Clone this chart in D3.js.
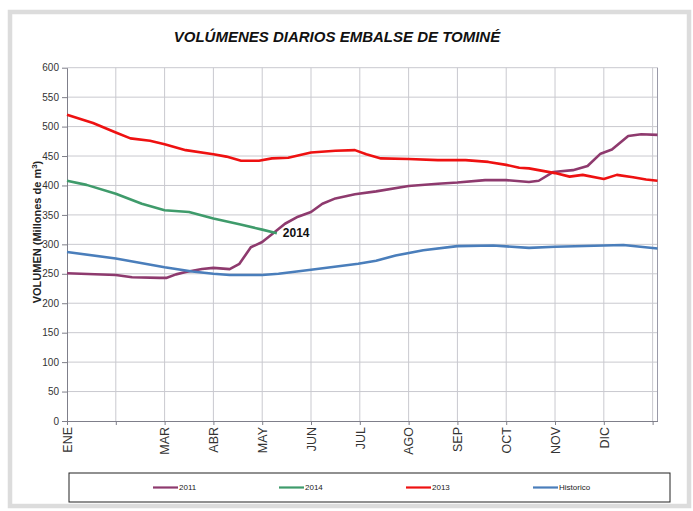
<!DOCTYPE html>
<html>
<head>
<meta charset="utf-8">
<script src="https://cdn.jsdelivr.net/npm/d3@7"></script>
<style>
  body { margin: 0; background: #fff; }
  svg { display: block; font-family: 'Liberation Sans', Arial, sans-serif; }
</style>
</head>
<body>
<div id="chart"></div>
<script>
// Month labels placed every 30 days on the category axis
const monthLabels = ['ENE', '', 'MAR', 'ABR', 'MAY', 'JUN', 'JUL', 'AGO', 'SEP', 'OCT', 'NOV', 'DIC', ''];
const yTicks = [0, 50, 100, 150, 200, 250, 300, 350, 400, 450, 500, 550, 600];

// 2011 (day of year, volume)
const days2011 = [0, 30, 40, 57, 61, 67, 73, 83, 90, 100, 106, 113, 120, 126, 134, 142, 150, 157, 165, 177,
  190, 210, 228, 240, 257, 270, 284, 290, 299, 311, 320, 328, 335, 345, 353, 363];
const vol2011 = [251, 248, 244, 243, 243, 249, 253, 258, 260, 258, 267, 295, 304, 317, 335, 347, 355, 369, 378, 385,
  390, 399, 403, 405, 409, 409, 406, 408, 423, 426, 433, 454, 461, 484, 487, 486];

// 2014
const days2014 = [0, 12, 30, 46, 60, 75, 90, 106, 120, 129];
const vol2014 = [408, 401, 386, 369, 358, 355, 344, 334, 325, 319];

// 2013
const days2013 = [0, 16, 30, 39, 51, 60, 73, 90, 98, 107, 118, 126, 136, 150, 165, 177, 184, 193, 210, 228,
  245, 259, 270, 278, 284, 300, 309, 317, 330, 338, 348, 356, 363];
const vol2013 = [520, 506, 490, 480, 476, 470, 460, 453, 449, 442, 442, 446, 447, 456, 459, 460, 453, 446, 445, 443,
  443, 440, 435, 430, 429, 421, 415, 418, 411, 418, 414, 410, 408];

// Historico
const daysHist = [0, 30, 60, 77, 90, 100, 120, 130, 150, 179, 190, 202, 219, 240, 262, 284, 300, 330, 342, 363];
const volHist = [287, 276, 261, 254, 250, 248, 248, 250, 257, 267, 272, 281, 290, 297, 298, 294, 296, 298, 299, 293];

const seriesNames = ['2011', '2014', '2013', 'Historico'];
const seriesColors = ['#8e3a6e', '#3f9b6b', '#ee1111', '#4a7ebb'];

const width = 693;
const height = 511;
const plot = { left: 67, right: 657.5, top: 67.7, bottom: 421 };

const series = [
  { name: seriesNames[0], days: days2011, values: vol2011 },
  { name: seriesNames[1], days: days2014, values: vol2014 },
  { name: seriesNames[2], days: days2013, values: vol2013 },
  { name: seriesNames[3], days: daysHist, values: volHist },
];

// Create SVG
const svg = d3.select('#chart').append('svg').attr('width', width).attr('height', height);

// Outer chart frame
svg.append('rect')
  .attr('x', 10).attr('y', 12)
  .attr('width', 679).attr('height', 494)
  .attr('fill', '#fff')
  .attr('stroke', '#dcdcdc')
  .attr('stroke-width', 4.5);

// Title
svg.append('text')
  .attr('x', 337)
  .attr('y', 42)
  .attr('text-anchor', 'middle')
  .style('font-size', '15px')
  .style('font-weight', 'bold')
  .style('font-style', 'italic')
  .attr('fill', '#111')
  .text('VOLÚMENES DIARIOS EMBALSE DE TOMINÉ');

// Scales
const x = d3.scaleLinear().domain([0, 363]).range([plot.left, plot.right]);
const y = d3.scaleLinear().domain([0, 600]).range([plot.bottom, plot.top]);
const xTickDays = monthLabels.map((d, i) => i * 30);

// Gridlines
const grid = svg.append('g').attr('class', 'grid');
grid.selectAll('.hgrid')
  .data(yTicks.slice(1))
  .enter()
  .append('line')
  .attr('class', 'hgrid')
  .attr('x1', plot.left).attr('x2', plot.right)
  .attr('y1', (d) => y(d)).attr('y2', (d) => y(d))
  .attr('stroke', '#c9c9cf')
  .attr('stroke-width', 1);

grid.selectAll('.vgrid')
  .data(xTickDays.slice(1))
  .enter()
  .append('line')
  .attr('class', 'vgrid')
  .attr('x1', (d) => x(d)).attr('x2', (d) => x(d))
  .attr('y1', plot.top).attr('y2', plot.bottom)
  .attr('stroke', '#c9c9cf')
  .attr('stroke-width', 1);

// Plot border (right side)
svg.append('line')
  .attr('x1', plot.right).attr('x2', plot.right)
  .attr('y1', plot.top).attr('y2', plot.bottom)
  .attr('stroke', '#9a9aa8');

// Y axis
const yAxis = svg.append('g')
  .attr('transform', `translate(${plot.left},0)`)
  .call(d3.axisLeft(y).tickValues(yTicks).tickSize(5).tickSizeOuter(0).tickPadding(3));
yAxis.select('.domain').attr('stroke', '#7f7f8a');
yAxis.selectAll('.tick line').attr('stroke', '#7f7f8a');
yAxis.selectAll('.tick text')
  .style('font-size', '10px')
  .style('font-family', "'Liberation Sans', Arial, sans-serif")
  .attr('fill', '#333');

// X axis
const xAxis = svg.append('g')
  .attr('transform', `translate(0,${plot.bottom})`)
  .call(d3.axisBottom(x).tickValues(xTickDays).tickSize(4).tickSizeOuter(0)
    .tickFormat((d, i) => monthLabels[i]));
xAxis.select('.domain').attr('stroke', '#7f7f8a');
xAxis.selectAll('.tick line').attr('stroke', '#7f7f8a');
xAxis.selectAll('.tick text')
  .style('font-size', '12.5px')
  .style('font-family', "'Liberation Sans', Arial, sans-serif")
  .attr('fill', '#333')
  .attr('text-anchor', 'end')
  .attr('dy', '0.35em')
  .attr('transform', 'translate(0,2) rotate(-90)')
  .attr('x', -4)
  .attr('y', 0);

// Y axis title with superscript
const yTitle = svg.append('text')
  .attr('transform', 'translate(41,232) rotate(-90)')
  .attr('text-anchor', 'middle')
  .style('font-size', '11px')
  .style('font-weight', 'bold')
  .attr('fill', '#222');
yTitle.append('tspan').text('VOLUMEN (Millones de m');
yTitle.append('tspan').attr('dy', -4).style('font-size', '8px').text('3');
yTitle.append('tspan').attr('dy', 4).text(')');

// Lines
const line = d3.line()
  .x((d) => x(d[0]))
  .y((d) => y(d[1]));

const lineGroup = svg.append('g').attr('class', 'lines');
lineGroup.selectAll('.series')
  .data(series)
  .enter()
  .append('path')
  .attr('class', 'series')
  .attr('fill', 'none')
  .attr('stroke', (d, i) => seriesColors[i])
  .attr('stroke-width', 2.6)
  .attr('stroke-linejoin', 'round')
  .attr('d', (d) => line(d.days.map((day, i) => [day, d.values[i]])));

// Label at the end of the 2014 series
svg.append('text')
  .attr('x', x(days2014[days2014.length - 1]) + 6)
  .attr('y', y(vol2014[vol2014.length - 1]))
  .attr('dy', '0.35em')
  .style('font-size', '12px')
  .style('font-weight', 'bold')
  .attr('fill', '#111')
  .text('2014');

// Legend
const legend = svg.append('g').attr('class', 'legend');
legend.append('rect')
  .attr('x', 69).attr('y', 473)
  .attr('width', 601).attr('height', 29)
  .attr('fill', '#fff')
  .attr('stroke', '#222')
  .attr('stroke-width', 1);

const legendX = [153, 279, 406, 533];
const items = legend.selectAll('.item')
  .data(seriesNames)
  .enter()
  .append('g')
  .attr('class', 'item')
  .attr('transform', (d, i) => `translate(${legendX[i]},487.5)`);
items.append('line')
  .attr('x1', 0).attr('x2', 25)
  .attr('stroke', (d, i) => seriesColors[i])
  .attr('stroke-width', 2.2);
items.append('text')
  .attr('x', 26)
  .attr('dy', '0.35em')
  .style('font-size', '8px')
  .attr('fill', '#222')
  .text((d) => d);
</script>
</body>
</html>
